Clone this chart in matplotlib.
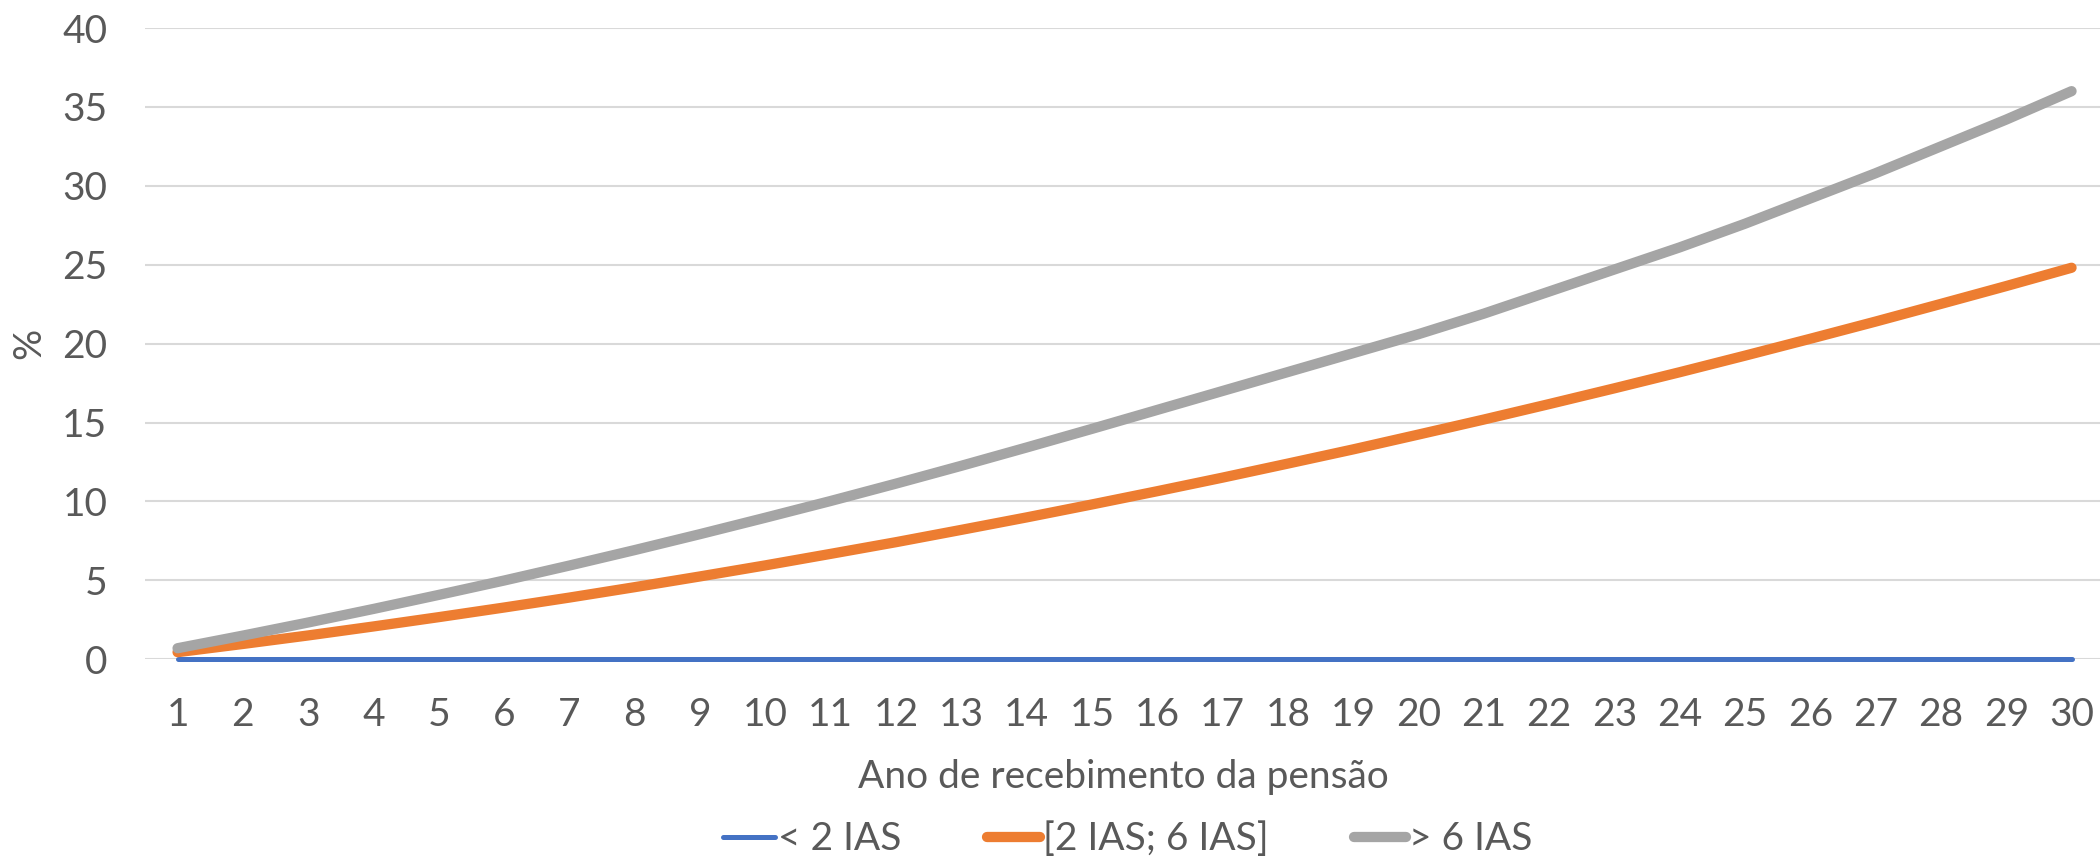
import numpy as np
import matplotlib
matplotlib.use("Agg")
import matplotlib.pyplot as plt

# === DADOS ===
anos = list(range(1, 31))
abaixo_2ias = [0.0] * 30
entre_2_6ias = [0.45, 0.97, 1.51, 2.08, 2.67, 3.28, 3.91, 4.57, 5.25, 5.95,
                6.68, 7.42, 8.20, 8.99, 9.81, 10.65, 11.51, 12.40, 13.30, 14.24,
                15.19, 16.17, 17.17, 18.19, 19.24, 20.31, 21.40, 22.52, 23.65, 24.81]
acima_6ias = [0.70, 1.50, 2.33, 3.19, 4.08, 4.99, 5.94, 6.92, 7.93, 8.97,
              10.03, 11.13, 12.26, 13.42, 14.60, 15.80, 17.00, 18.20, 19.40, 20.60,
              21.90, 23.30, 24.70, 26.10, 27.60, 29.20, 30.80, 32.50, 34.20, 36.00]
nomes = ["< 2 IAS", "[2 IAS; 6 IAS]", "> 6 IAS"]
y_ticks = [0, 5, 10, 15, 20, 25, 30, 35, 40]

# === ESTILO ===
plt.rcParams['font.family'] = ['Lato', 'DejaVu Sans']
TXT = "#595959"
FS = 28

fig = plt.figure(figsize=(21, 8.6), dpi=100)
ax = fig.add_axes([0.069, 0.2334, 0.933, 0.734])

ax.plot(anos, abaixo_2ias, color="#4472C4", linewidth=3.6,
        solid_capstyle="round", label=nomes[0], zorder=3, clip_on=False)
ax.plot(anos, entre_2_6ias, color="#ED7D31", linewidth=7.4,
        solid_capstyle="round", label=nomes[1], zorder=3, clip_on=False)
ax.plot(anos, acima_6ias, color="#A5A5A5", linewidth=7.4,
        solid_capstyle="round", label=nomes[2], zorder=3, clip_on=False)

ax.set_ylim(0, 40)
ax.set_xlim(0.5, 30.5)
ax.set_yticks(y_ticks)
ax.set_xticks(anos)
ax.grid(axis="y", color="#D9D9D9", linewidth=1.5)
ax.set_axisbelow(True)
for s in ax.spines.values():
    s.set_visible(False)
ax.tick_params(axis="both", length=0, labelsize=FS, colors=TXT)
ax.tick_params(axis="y", pad=27)
ax.tick_params(axis="x", pad=27)

# rótulos dos eixos
fig.text(0.535, 0.0837, "Ano de recebimento da pensão", fontsize=FS,
         color=TXT, ha="center", va="baseline")
fig.text(0.0138, 0.601, "%", fontsize=FS, color=TXT, rotation=90,
         ha="center", va="center")

leg = fig.legend(loc="center", bbox_to_anchor=(0.537, 0.024), ncol=3,
                 frameon=False, fontsize=FS, handlelength=1.35,
                 handletextpad=0.08, columnspacing=2.2, labelcolor=TXT,
                 borderpad=0)

fig.savefig("out.png", dpi=100)
